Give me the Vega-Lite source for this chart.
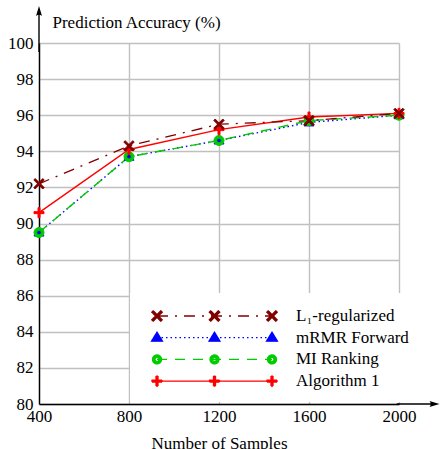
{
  "$schema": "https://vega.github.io/schema/vega-lite/v6.json",
  "width": 360,
  "height": 361,
  "autosize": "none",
  "padding": {"left": 39, "top": 43, "right": 41, "bottom": 45},
  "background": "white",
  "config": {"view": {"stroke": null}, "font": "Liberation Serif, DejaVu Serif, serif"},
  "data": {
    "values": [
      {"method": "mRMR Forward", "samples": 400, "accuracy": 89.5},
      {"method": "mRMR Forward", "samples": 800, "accuracy": 93.7},
      {"method": "mRMR Forward", "samples": 1200, "accuracy": 94.6},
      {"method": "mRMR Forward", "samples": 1600, "accuracy": 95.6},
      {"method": "mRMR Forward", "samples": 2000, "accuracy": 96.0},
      {"method": "MI Ranking", "samples": 400, "accuracy": 89.5},
      {"method": "MI Ranking", "samples": 800, "accuracy": 93.7},
      {"method": "MI Ranking", "samples": 1200, "accuracy": 94.6},
      {"method": "MI Ranking", "samples": 1600, "accuracy": 95.7},
      {"method": "MI Ranking", "samples": 2000, "accuracy": 96.0},
      {"method": "Algorithm 1", "samples": 400, "accuracy": 90.6},
      {"method": "Algorithm 1", "samples": 800, "accuracy": 94.1},
      {"method": "Algorithm 1", "samples": 1200, "accuracy": 95.2},
      {"method": "Algorithm 1", "samples": 1600, "accuracy": 95.9},
      {"method": "Algorithm 1", "samples": 2000, "accuracy": 96.1},
      {"method": "L₁-regularized", "samples": 400, "accuracy": 92.2},
      {"method": "L₁-regularized", "samples": 800, "accuracy": 94.3},
      {"method": "L₁-regularized", "samples": 1200, "accuracy": 95.5},
      {"method": "L₁-regularized", "samples": 1600, "accuracy": 95.7},
      {"method": "L₁-regularized", "samples": 2000, "accuracy": 96.1}
    ]
  },
  "layer": [
    {
      "transform": [{"filter": "datum.method === 'mRMR Forward'"}],
      "mark": {"type": "line", "strokeWidth": 1.4, "strokeDash": [1.5, 3]},
      "encoding": {
        "x": {
          "field": "samples", "type": "quantitative",
          "scale": {"domain": [400, 2000], "nice": false, "zero": false},
          "axis": {
            "values": [400, 800, 1200, 1600, 2000], "format": "d", "tickCount": 10,
            "grid": true, "gridColor": "#c0c0c0", "gridWidth": 1.4,
            "domain": true, "domainColor": "black", "domainWidth": 1.4,
            "ticks": false, "tickSize": 0,
            "labelPadding": 4, "labelFont": "Liberation Serif, DejaVu Serif, serif", "labelFontSize": 17, "labelColor": "black",
            "labelFlush": false, "labelOverlap": false,
            "title": "Number of Samples", "titleFont": "Liberation Serif, DejaVu Serif, serif", "titleFontSize": 17,
            "titleFontWeight": "normal", "titleColor": "black",
            "titleX": 180, "titleY": 44, "titleAlign": "center", "titleBaseline": "alphabetic"
          }
        },
        "y": {
          "field": "accuracy", "type": "quantitative",
          "scale": {"domain": [80, 100], "nice": false, "zero": false},
          "axis": {
            "values": [80, 82, 84, 86, 88, 90, 92, 94, 96, 98, 100], "format": "d", "tickCount": 20,
            "grid": true, "gridColor": "#c0c0c0", "gridWidth": 1.4,
            "domain": true, "domainColor": "black", "domainWidth": 1.4,
            "ticks": false, "tickSize": 0,
            "labelPadding": 6, "labelFont": "Liberation Serif, DejaVu Serif, serif", "labelFontSize": 17, "labelColor": "black",
            "labelFlush": false, "labelOverlap": false,
            "title": "Prediction Accuracy (%)", "titleFont": "Liberation Serif, DejaVu Serif, serif", "titleFontSize": 17,
            "titleFontWeight": "normal", "titleColor": "black", "titleAngle": 0,
            "titleX": 13, "titleY": -16, "titleAlign": "left", "titleBaseline": "alphabetic"
          }
        },
        "color": {
          "field": "method", "type": "nominal",
          "scale": {
            "domain": ["L₁-regularized", "mRMR Forward", "MI Ranking", "Algorithm 1"],
            "range": ["#800000", "#0000ff", "#00cc00", "#ff0000"]
          },
          "legend": {
            "orient": "none", "legendX": 91, "legendY": 250, "title": null,
            "fillColor": "white", "padding": 12,
            "symbolSize": 400, "symbolStrokeWidth": 1.3, "symbolOffset": 61.5,
            "labelFont": "Liberation Serif, DejaVu Serif, serif", "labelFontSize": 17, "labelColor": "black",
            "labelOffset": 70.5, "labelLimit": 0, "rowPadding": 2.7,
            "encode": {
              "symbols": {
                "update": {
                  "shape": {"signal": "datum.value === 'L₁-regularized' ? 'M-7.05,0h0.001M-5.75,0h1.1m0.7,0h0.2m0.7,0h1.1m0.7,0h0.2m0.7,0h1.1m0.7,0h0.2m0.7,0h1.1m0.7,0h0.2m0.7,0h0.7M-6.27,-0.38l0.9,0.9l0.14,-0.14l-0.9,-0.9zM-6.13,0.52l0.9,-0.9l-0.14,-0.14l-0.9,0.9zM-0.52,-0.38l0.9,0.9l0.14,-0.14l-0.9,-0.9zM-0.38,0.52l0.9,-0.9l-0.14,-0.14l-0.9,0.9zM5.23,-0.38l0.9,0.9l0.14,-0.14l-0.9,-0.9zM5.37,0.52l0.9,-0.9l-0.14,-0.14l-0.9,0.9z' : datum.value === 'mRMR Forward' ? 'M-7.05,0h0.001M-5.75,0h0.15m0.3,0h0.15m0.3,0h0.15m0.3,0h0.15m0.3,0h0.15m0.3,0h0.15m0.3,0h0.15m0.3,0h0.15m0.3,0h0.15m0.3,0h0.15m0.3,0h0.15m0.3,0h0.15m0.3,0h0.15m0.3,0h0.15m0.3,0h0.15m0.3,0h0.15m0.3,0h0.15m0.3,0h0.15m0.3,0h0.15m0.3,0h0.15m0.3,0h0.15m0.3,0h0.15m0.3,0h0.15m0.3,0h0.15m0.3,0h0.15m0.3,0M-5.75,-0.55l0.55,0.9l-1.1,0zM0,-0.55l0.55,0.9l-1.1,0zM5.75,-0.55l0.55,0.9l-1.1,0z' : datum.value === 'MI Ranking' ? 'M-7.05,0h0.001M-5.75,0h1m0.8,0h1m0.8,0h1m0.8,0h1m0.8,0h1m0.8,0h1m0.8,0h0.7M-5.3,0a0.45,0.45 0 1,1 -0.9,0a0.45,0.45 0 1,1 0.9,0zM-5.55,0a0.2,0.2 0 1,0 -0.4,0a0.2,0.2 0 1,0 0.4,0zM0.45,0a0.45,0.45 0 1,1 -0.9,0a0.45,0.45 0 1,1 0.9,0zM0.2,0a0.2,0.2 0 1,0 -0.4,0a0.2,0.2 0 1,0 0.4,0zM6.2,0a0.45,0.45 0 1,1 -0.9,0a0.45,0.45 0 1,1 0.9,0zM5.95,0a0.2,0.2 0 1,0 -0.4,0a0.2,0.2 0 1,0 0.4,0z' : 'M-7.05,0h0.001M-5.75,0H5.75M-6.25,-0.1h0.4v-0.4h0.2v0.4h0.4v0.2h-0.4v0.4h-0.2v-0.4h-0.4zM-0.5,-0.1h0.4v-0.4h0.2v0.4h0.4v0.2h-0.4v0.4h-0.2v-0.4h-0.4zM5.25,-0.1h0.4v-0.4h0.2v0.4h0.4v0.2h-0.4v0.4h-0.2v-0.4h-0.4z'"},
                  "fill": {"scale": "color", "field": "value"},
                  "stroke": {"scale": "color", "field": "value"},
                  "strokeDash": {"value": [1, 0]},
                  "strokeWidth": {"value": 1.3},
                  "opacity": {"value": 1}
                }
              }
            }
          }
        }
      }
    },
    {
      "transform": [{"filter": "datum.method === 'MI Ranking'"}],
      "mark": {"type": "line", "strokeWidth": 1.4, "strokeDash": [10, 8]},
      "encoding": {
        "x": {"field": "samples", "type": "quantitative"},
        "y": {"field": "accuracy", "type": "quantitative"},
        "color": {"field": "method", "type": "nominal", "scale": {"domain": ["L₁-regularized", "mRMR Forward", "MI Ranking", "Algorithm 1"], "range": ["#800000", "#0000ff", "#00cc00", "#ff0000"]}}
      }
    },
    {
      "transform": [{"filter": "datum.method === 'Algorithm 1'"}],
      "mark": {"type": "line", "strokeWidth": 1.4},
      "encoding": {
        "x": {"field": "samples", "type": "quantitative"},
        "y": {"field": "accuracy", "type": "quantitative"},
        "color": {"field": "method", "type": "nominal", "scale": {"domain": ["L₁-regularized", "mRMR Forward", "MI Ranking", "Algorithm 1"], "range": ["#800000", "#0000ff", "#00cc00", "#ff0000"]}}
      }
    },
    {
      "transform": [{"filter": "datum.method === 'L₁-regularized'"}],
      "mark": {"type": "line", "strokeWidth": 1.3, "strokeDash": [11, 7, 2, 7]},
      "encoding": {
        "x": {"field": "samples", "type": "quantitative"},
        "y": {"field": "accuracy", "type": "quantitative"},
        "color": {"field": "method", "type": "nominal", "scale": {"domain": ["L₁-regularized", "mRMR Forward", "MI Ranking", "Algorithm 1"], "range": ["#800000", "#0000ff", "#00cc00", "#ff0000"]}}
      }
    },
    {
      "transform": [{"filter": "datum.method === 'mRMR Forward'"}],
      "mark": {"type": "point", "filled": true, "size": 100, "strokeWidth": 1, "opacity": 1, "color": "#0000ff", "stroke": "#0000ff", "shape": "M0,-1L1,0.7L-1,0.7Z"},
      "encoding": {
        "x": {"field": "samples", "type": "quantitative"},
        "y": {"field": "accuracy", "type": "quantitative"}
      }
    },
    {
      "transform": [{"filter": "datum.method === 'MI Ranking'"}],
      "mark": {"type": "point", "filled": true, "size": 100, "strokeWidth": 1, "opacity": 1, "color": "#00cc00", "stroke": "#00cc00", "shape": "M1,0A1,1 0 1,1 -1,0A1,1 0 1,1 1,0ZM0.45,0A0.45,0.45 0 1,0 -0.45,0A0.45,0.45 0 1,0 0.45,0Z"},
      "encoding": {
        "x": {"field": "samples", "type": "quantitative"},
        "y": {"field": "accuracy", "type": "quantitative"}
      }
    },
    {
      "transform": [{"filter": "datum.method === 'Algorithm 1'"}],
      "mark": {"type": "point", "filled": true, "size": 100, "strokeWidth": 1, "opacity": 1, "color": "#ff0000", "stroke": "#ff0000", "shape": "M-1,-0.2H-0.2V-1H0.2V-0.2H1V0.2H0.2V1H-0.2V0.2H-1Z"},
      "encoding": {
        "x": {"field": "samples", "type": "quantitative"},
        "y": {"field": "accuracy", "type": "quantitative"}
      }
    },
    {
      "transform": [{"filter": "datum.method === 'L₁-regularized'"}],
      "mark": {"type": "point", "filled": true, "size": 100, "strokeWidth": 1, "opacity": 1, "color": "#800000", "stroke": "#800000", "shape": "M-1.04,-0.76L0.76,1.04L1.04,0.76L-0.76,-1.04ZM-0.76,1.04L1.04,-0.76L0.76,-1.04L-1.04,0.76Z"},
      "encoding": {
        "x": {"field": "samples", "type": "quantitative"},
        "y": {"field": "accuracy", "type": "quantitative"}
      }
    },
    {
      "data": {"values": [{}]},
      "mark": {"type": "rule", "color": "black", "strokeWidth": 1.4},
      "encoding": {"x": {"datum": 1990}, "x2": {"datum": 2150}, "y": {"datum": 80}}
    },
    {
      "data": {"values": [{}]},
      "mark": {"type": "rule", "color": "black", "strokeWidth": 1.4},
      "encoding": {"x": {"datum": 400}, "y": {"datum": 99.5}, "y2": {"datum": 101.6}}
    },
    {
      "data": {"values": [{}]},
      "mark": {"type": "point", "filled": true, "color": "black", "size": 100, "opacity": 1, "shape": "M1,0L-1,0.6Q-0.5,0 -1,-0.6Z"},
      "encoding": {"x": {"datum": 2157.8}, "y": {"datum": 80}}
    },
    {
      "data": {"values": [{}]},
      "mark": {"type": "point", "filled": true, "color": "black", "size": 100, "opacity": 1, "shape": "M0,-1L0.6,1Q0,0.5 -0.6,1Z"},
      "encoding": {"x": {"datum": 400}, "y": {"datum": 101.77}}
    }
  ]
}
